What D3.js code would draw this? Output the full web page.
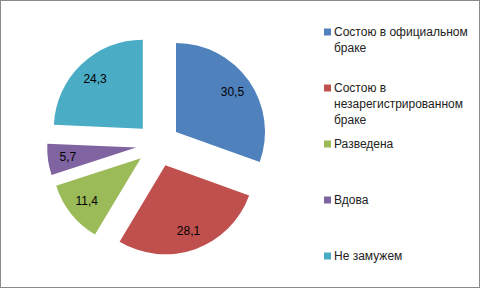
<!DOCTYPE html>
<html>
<head>
<meta charset="utf-8">
<script src="https://cdn.jsdelivr.net/npm/d3@7"></script>
<style>
  body { margin: 0; background: #fff; }
</style>
</head>
<body>
<div id="plot"></div>
<script>
const categories = [
  "Состою в официальном браке",
  "Состою в незарегистрированном браке",
  "Разведена",
  "Вдова",
  "Не замужем"
];
const values = [30.5, 28.1, 11.4, 5.7, 24.3];
const legendLines = [
  ["Состою в официальном", "браке"],
  ["Состою в", "незарегистрированном", "браке"],
  ["Разведена"],
  ["Вдова"],
  ["Не замужем"]
];
const colors = ["#4F81BD", "#C0504D", "#9BBB59", "#8064A2", "#4BACC6"];

function piePlot() {
  const width = 481;
  const height = 289;
  const radius = 89;
  const explode = 22;
  const cx = 158, cy = 144.6;
  const font = "'Liberation Sans', Arial, sans-serif";

  const svg = d3.select("#plot")
    .append("svg")
    .attr("width", width)
    .attr("height", height);

  svg.append("rect")
    .attr("x", 0.5).attr("y", 0.5)
    .attr("width", width - 2).attr("height", height - 2)
    .attr("fill", "#fff")
    .attr("stroke", "#8a8a8a")
    .attr("stroke-width", 1);

  const pie = d3.pie().sort(null).value(d => d);
  const arcs = pie(values);
  const arc = d3.arc().innerRadius(0).outerRadius(radius);

  const g = svg.append("g").attr("transform", `translate(${cx},${cy})`);

  const slice = g.selectAll("g.slice")
    .data(arcs)
    .enter()
    .append("g")
    .attr("class", "slice")
    .attr("transform", d => {
      const a = (d.startAngle + d.endAngle) / 2;
      return `translate(${explode * Math.sin(a)},${-explode * Math.cos(a)})`;
    });

  slice.append("path")
    .attr("d", arc)
    .attr("fill", (d, i) => colors[i]);

  slice.append("text")
    .attr("x", d => 69 * Math.sin((d.startAngle + d.endAngle) / 2))
    .attr("y", d => -69 * Math.cos((d.startAngle + d.endAngle) / 2))
    .attr("dy", "0.35em")
    .attr("text-anchor", "middle")
    .attr("font-family", font)
    .attr("font-size", 12)
    .attr("fill", "#000")
    .text(d => String(d.data).replace(".", ","));

  // legend
  const legend = svg.append("g").attr("transform", "translate(324,0)");
  const item = legend.selectAll("g")
    .data(categories)
    .enter()
    .append("g")
    .attr("transform", (d, i) => `translate(0,${32 + i * 56})`);

  item.append("rect")
    .attr("x", 0).attr("y", -3.5)
    .attr("width", 7).attr("height", 7)
    .attr("fill", (d, i) => colors[i]);

  item.append("text")
    .attr("font-family", font)
    .attr("font-size", 12)
    .attr("fill", "#222")
    .selectAll("tspan")
    .data((d, i) => legendLines[i])
    .enter()
    .append("tspan")
    .attr("x", 10)
    .attr("y", (d, j) => j * 16)
    .attr("dy", "0.35em")
    .text(d => d);
}

piePlot();
</script>
</body>
</html>
